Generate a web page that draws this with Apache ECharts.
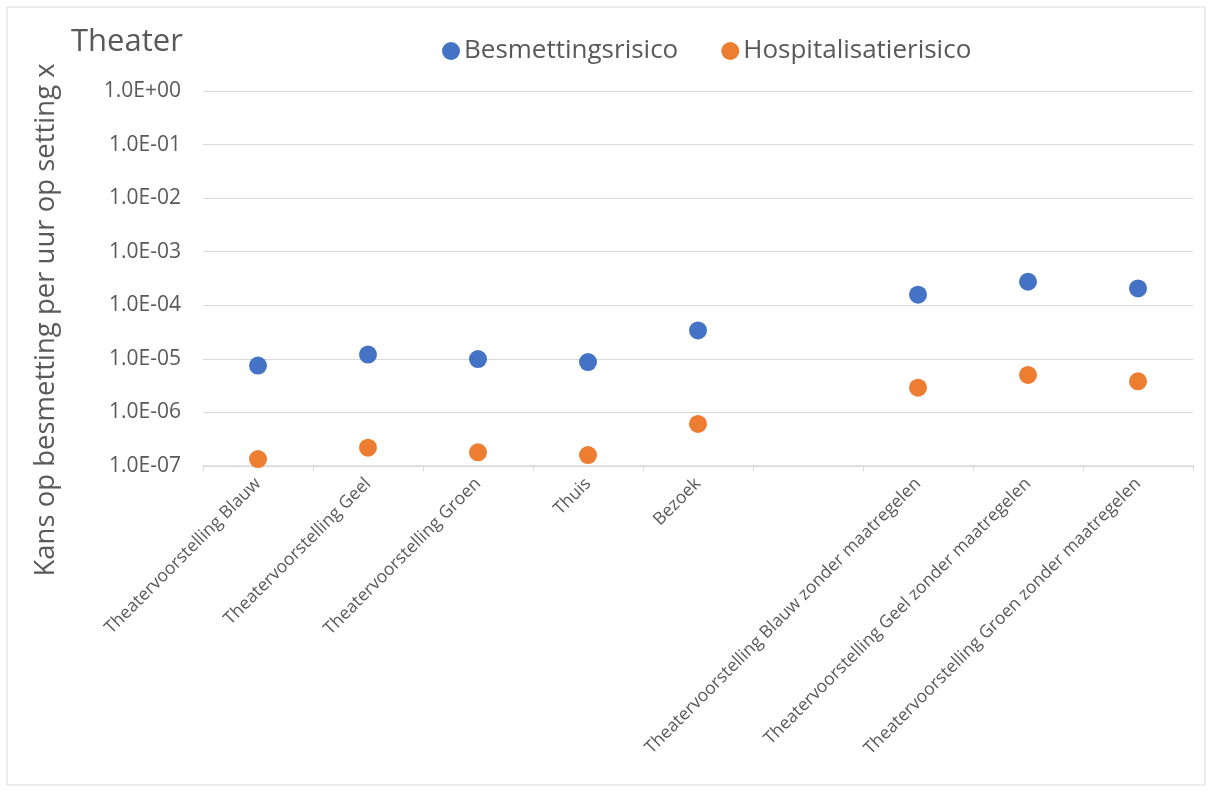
<!DOCTYPE html>
<html><head><meta charset="utf-8">
<script src="https://cdn.jsdelivr.net/npm/echarts@6/dist/echarts.min.js"></script>
<style>html,body{margin:0;padding:0;background:#fff}#c{width:1212px;height:792px}</style>
</head><body><div id="c"></div>
<script>
const categories = ['Theatervoorstelling Blauw','Theatervoorstelling Geel','Theatervoorstelling Groen','Thuis','Bezoek','','Theatervoorstelling Blauw zonder maatregelen','Theatervoorstelling Geel zonder maatregelen','Theatervoorstelling Groen zonder maatregelen'];
const besmettingsrisico = [7.5e-6, 1.2e-5, 9.9e-6, 8.7e-6, 3.4e-5, null, 1.58e-4, 2.75e-4, 2.06e-4];
const hospitalisatierisico = [1.35e-7, 2.2e-7, 1.8e-7, 1.6e-7, 6.1e-7, null, 2.9e-6, 5.0e-6, 3.8e-6];
const seriesNames = ['Besmettingsrisico','Hospitalisatierisico'];
const FONT = 'Open Sans';
const GREY = '#595959';
const chart = echarts.init(document.getElementById('c'));
function fmt(v){const e=Math.round(Math.log10(v));return '1.0E'+(e<0?'-':'+')+String(Math.abs(e)).padStart(2,'0');}
chart.setOption({
  animation:false,
  backgroundColor:'#fff',
  textStyle:{fontFamily:FONT},
  title:{text:'Theater',left:66,top:22,textStyle:{fontFamily:FONT,fontSize:31,fontWeight:'normal',color:GREY}},
  legend:{left:437,top:33,itemWidth:18,itemHeight:18,itemGap:43,icon:'circle',
    textStyle:{fontFamily:FONT,fontSize:26,color:GREY,padding:[0,0,0,-1]},data:seriesNames},
  graphic:[
    {type:'rect',shape:{x:7,y:7,width:1198,height:778},style:{fill:'none',stroke:'#d9d9d9',lineWidth:1},silent:true},
    {type:'text',x:46,y:320,rotation:Math.PI/2,style:{text:'Kans op besmetting per uur op setting x',fontFamily:FONT,fontSize:27.5,fill:GREY,textAlign:'center',textVerticalAlign:'middle'}}
  ],
  grid:{left:203,right:19,top:91,bottom:326,containLabel:false},
  xAxis:{type:'category',data:categories,boundaryGap:true,
    axisLine:{lineStyle:{color:'#d9d9d9',width:1.5}},
    axisTick:{show:true,length:5,lineStyle:{color:'#d9d9d9'}},
    axisLabel:{rotate:45,interval:0,fontFamily:FONT,fontSize:17.5,color:GREY,margin:15},
    splitLine:{show:false}},
  yAxis:{type:'log',logBase:10,min:1e-7,max:1,interval:1,
    axisLine:{show:false},axisTick:{show:false},
    axisLabel:{formatter:fmt,fontFamily:FONT,fontSize:21,color:GREY,margin:22},
    splitLine:{lineStyle:{color:'#d9d9d9',width:1.2}}},
  series:[
    {name:seriesNames[0],type:'scatter',data:besmettingsrisico,symbolSize:18,itemStyle:{color:'#4472C4',opacity:1}},
    {name:seriesNames[1],type:'scatter',data:hospitalisatierisico,symbolSize:18,itemStyle:{color:'#ED7D31',opacity:1}}
  ]
});
</script></body></html>
